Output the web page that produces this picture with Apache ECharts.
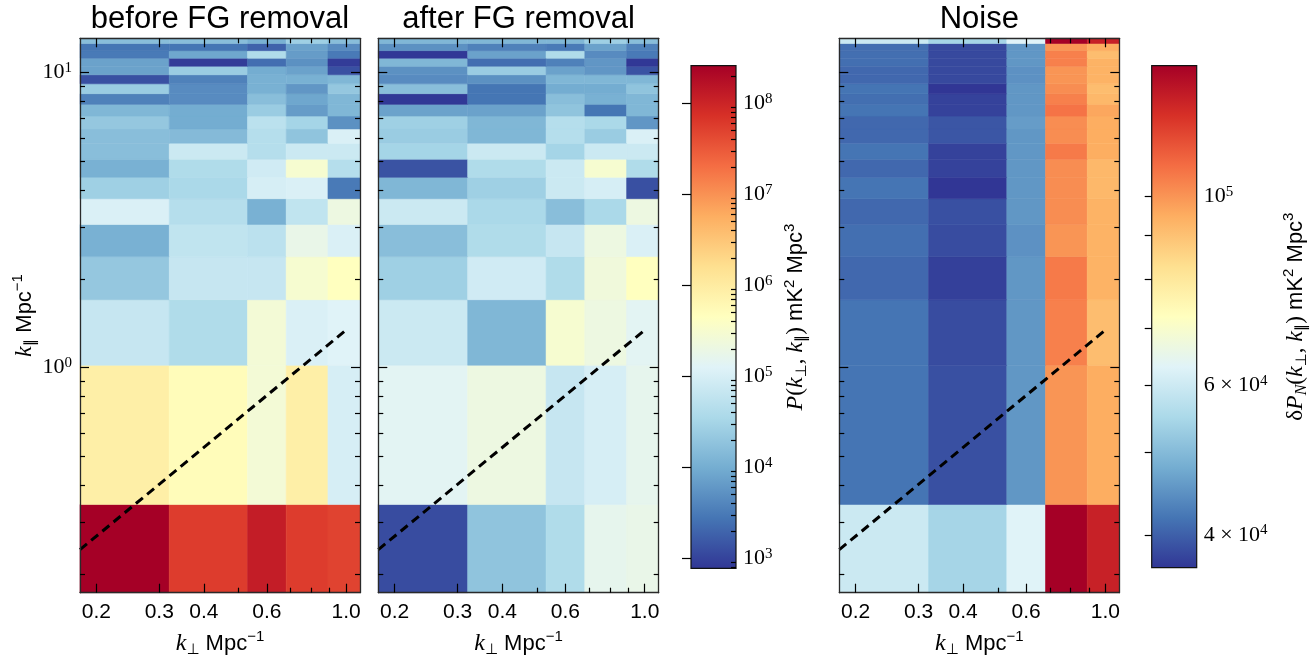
<!DOCTYPE html>
<html><head><meta charset="utf-8">
<script src="https://cdn.jsdelivr.net/npm/echarts@6/dist/echarts.min.js"></script>
<style>html,body{margin:0;padding:0;background:#fff}#c{width:1313px;height:658px}</style>
</head><body><div id="c"></div><script>
// ---------------- data ----------------
const kPerpEdges = [0.18, 0.32, 0.53, 0.68, 0.89, 1.094];
const kParEdges = [0.1727, 0.344, 1.02, 1.70, 2.38, 3.06, 3.74, 4.42, 5.09, 5.77, 6.45, 7.13, 7.81, 8.49, 9.17, 9.84, 10.52, 11.2, 11.88, 12.56, 13.08];
const kPerpRange = [0.18, 1.094];
const kParRange = [0.1727, 13.08];
const kPerpMajorTicks = [0.2, 0.3, 0.4, 0.6, 1.0];
const kPerpMinorTicks = [0.5, 0.7, 0.8, 0.9];
const kParMajorTicks = [1, 10];
const kParMinorTicks = [0.2, 0.3, 0.4, 0.5, 0.6, 0.7, 0.8, 0.9, 2, 3, 4, 5, 6, 7, 8, 9];
const powerRange = [776, 2.59e8];
const noiseRange = [3.66e4, 1.426e5];
const powerMajorTicks = [1e3, 1e4, 1e5, 1e6, 1e7, 1e8];
const noiseTicks = [4e4, 5e4, 6e4, 7e4, 8e4, 9e4, 1e5];
const noiseLabelTicks = [4e4, 6e4, 1e5];
const wedgeKPerp = [0.18, 1.0];
const wedgeKPar = [0.2416, 1.342];
const titles = ['before FG removal', 'after FG removal', 'Noise'];

// rows from lowest k_par bin upward, columns from lowest k_perp bin
const beforeFG = [
  [2.6e8, 5.6e7, 1.2e8, 5.6e7, 4.9e7],
  [8.5e5, 5.1e5, 2.7e5, 8.5e5, 9.8e4],
  [6.7e4, 4.0e4, 2.7e5, 1.1e5, 1.26e5],
  [2.1e4, 6.7e4, 6.7e4, 3.1e5, 4.5e5],
  [1.1e4, 5.9e4, 5.2e4, 1.8e5, 1.1e5],
  [1.1e5, 4.5e4, 1.1e4, 5.9e4, 2.1e5],
  [2.7e4, 3.5e4, 9.8e4, 1.1e5, 3.1e3],
  [1.1e4, 4.0e4, 8.6e4, 3.1e5, 4.5e4],
  [1.6e4, 7.6e4, 4.5e4, 7.6e4, 7.6e4],
  [1.6e4, 1.45e4, 4.5e4, 1.9e4, 1.1e5],
  [2.1e4, 9.9e3, 5.2e4, 3.1e4, 5.2e3],
  [1.3e4, 9.9e3, 2.4e4, 6.7e3, 1.3e4],
  [3.6e3, 4.6e3, 1.6e4, 8.7e3, 1.3e4],
  [2.4e4, 4.6e3, 1.1e4, 5.9e3, 2.1e4],
  [1.3e3, 3.6e3, 1.1e4, 1.1e4, 1.3e4],
  [7.7e3, 2.4e4, 9.9e3, 7.7e3, 1.3e3],
  [7.7e3, 880, 2.4e3, 5.2e3, 880],
  [3.1e3, 8.7e3, 4.0e4, 6.7e3, 3.1e3],
  [2.8e3, 2.8e3, 1.9e3, 7.7e3, 4.6e3],
  [1.6e4, 1.6e4, 1.1e4, 2.7e4, 1.6e4]
];
const afterFG = [
  [1.2e3, 1.9e4, 4.0e4, 1.6e5, 1.8e5],
  [1.4e5, 2.1e5, 6.7e4, 9.8e4, 1.6e5],
  [7.6e4, 1.3e4, 3.1e5, 2.1e5, 1.4e5],
  [2.7e4, 8.6e4, 4.0e4, 2.4e5, 4.5e5],
  [1.6e4, 4.0e4, 6.7e4, 2.1e5, 1.1e5],
  [7.6e4, 3.5e4, 1.6e4, 3.5e4, 2.1e5],
  [1.3e4, 2.7e4, 7.6e4, 9.8e4, 1.3e3],
  [1.4e3, 4.0e4, 7.6e4, 3.1e5, 4.0e4],
  [3.1e4, 7.6e4, 3.1e4, 7.6e4, 7.6e4],
  [2.4e4, 1.3e4, 4.5e4, 2.4e4, 1.1e5],
  [2.7e4, 1.3e4, 4.5e4, 3.5e4, 5.9e3],
  [7.7e3, 7.7e3, 1.9e4, 2.8e3, 1.3e4],
  [800, 2.8e3, 1.6e4, 1.1e4, 1.3e4],
  [1.6e4, 2.8e3, 9.9e3, 9.9e3, 1.9e4],
  [4.6e3, 5.2e3, 1.3e4, 1.3e4, 1.3e4],
  [5.2e3, 2.4e4, 7.7e3, 5.9e3, 1.4e3],
  [1.3e4, 2.4e3, 3.6e3, 5.9e3, 800],
  [800, 7.7e3, 4.0e4, 4.6e3, 3.1e3],
  [5.2e3, 3.6e3, 3.1e3, 7.7e3, 3.6e3],
  [1.3e4, 1.3e4, 1.3e4, 2.7e4, 1.6e4]
];
const noise = [
  [5.97e4, 5.43e4, 6.31e4, 1.43e5, 1.30e5],
  [4.19e4, 3.87e4, 4.55e4, 1.00e5, 9.49e4],
  [4.19e4, 3.84e4, 4.55e4, 1.044e5, 9.11e4],
  [4.08e4, 3.74e4, 4.55e4, 1.058e5, 9.36e4],
  [4.14e4, 3.84e4, 4.49e4, 1.00e5, 9.36e4],
  [4.08e4, 3.87e4, 4.55e4, 1.016e5, 9.36e4],
  [4.19e4, 3.66e4, 4.55e4, 1.016e5, 9.23e4],
  [4.08e4, 3.76e4, 4.55e4, 1.016e5, 9.23e4],
  [4.19e4, 3.76e4, 4.55e4, 1.058e5, 9.49e4],
  [4.08e4, 3.92e4, 4.55e4, 1.016e5, 9.49e4],
  [4.08e4, 3.92e4, 4.61e4, 1.016e5, 9.49e4],
  [4.19e4, 3.76e4, 4.55e4, 1.072e5, 9.62e4],
  [4.14e4, 3.76e4, 4.55e4, 1.044e5, 9.23e4],
  [4.19e4, 3.66e4, 4.55e4, 1.016e5, 9.11e4],
  [4.08e4, 3.81e4, 4.49e4, 1.00e5, 9.36e4],
  [4.08e4, 3.81e4, 4.49e4, 1.00e5, 9.36e4],
  [4.14e4, 3.81e4, 4.55e4, 1.044e5, 9.36e4],
  [4.14e4, 3.81e4, 4.55e4, 1.044e5, 9.11e4],
  [4.14e4, 3.81e4, 4.55e4, 1.00e5, 9.49e4],
  [5.97e4, 5.43e4, 6.31e4, 1.43e5, 1.30e5]
];

// ---------------- colormap ----------------
const RdYlBu_r = ['#313695','#4575b4','#74add1','#abd9e9','#e0f3f8','#ffffbf','#fee090','#fdae61','#f46d43','#d73027','#a50026'];
const stopsRGB = RdYlBu_r.map(h => [parseInt(h.slice(1,3),16), parseInt(h.slice(3,5),16), parseInt(h.slice(5,7),16)]);
function cmap(t) {
  t = Math.max(0, Math.min(1, t));
  const s = t * (stopsRGB.length - 1);
  const i = Math.min(Math.floor(s), stopsRGB.length - 2);
  const f = s - i, a = stopsRGB[i], b = stopsRGB[i + 1];
  return 'rgb(' + [0,1,2].map(k => Math.round(a[k] + (b[k] - a[k]) * f)).join(',') + ')';
}
function colorFor(v, range) {
  return cmap((Math.log10(v) - Math.log10(range[0])) / (Math.log10(range[1]) - Math.log10(range[0])));
}

// ---------------- layout ----------------
const plotTop = 38.3, plotHeight = 554.4;
const panelLeft = [80, 378.3, 839.3];
const panelWidth = [280, 280.4, 280];
const panelData = [beforeFG, afterFG, noise];
const panelRange = [powerRange, powerRange, noiseRange];

const SERIF = 'Liberation Serif', SANS = 'Liberation Sans', SYM = 'DejaVu Sans';
const nameRich = {
  i: {fontFamily: SERIF, fontStyle: 'italic', fontSize: 24, color: '#000', lineHeight: 28},
  r: {fontFamily: SERIF, fontSize: 23, color: '#000', lineHeight: 28},
  sub: {fontFamily: SYM, fontSize: 15, color: '#000', verticalAlign: 'bottom', lineHeight: 18},
  subi: {fontFamily: SERIF, fontStyle: 'italic', fontSize: 16, color: '#000', verticalAlign: 'bottom', lineHeight: 18},
  t: {fontFamily: SANS, fontSize: 22, color: '#000', lineHeight: 28},
  sup: {fontFamily: SANS, fontSize: 15, color: '#000', verticalAlign: 'top', lineHeight: 18}
};
const powRich = {
  b: {fontFamily: SERIF, fontSize: 22, color: '#000', lineHeight: 24},
  s: {fontFamily: SERIF, fontSize: 15, color: '#000', verticalAlign: 'top', lineHeight: 16}
};
function powLabel(v) {
  const e = Math.floor(Math.log10(v) + 1e-9);
  const m = Math.round(v / Math.pow(10, e));
  return m === 1 ? '{b|10}{s|' + e + '}' : '{b|' + m + ' × 10}{s|' + e + '}';
}
function minorsOf(lo, hi) {
  const out = [];
  for (let e = Math.floor(Math.log10(lo)); e <= Math.ceil(Math.log10(hi)); e++)
    for (let m = 2; m <= 9; m++) { const v = m * Math.pow(10, e); if (v >= lo && v <= hi) out.push(v); }
  return out;
}

const LINE = {color: '#2a2a2a', width: 1.3};
const TICK = {color: '#000', width: 1.2};
const grids = [], xAxes = [], yAxes = [], series = [];

for (let p = 0; p < 3; p++) {
  grids.push({left: panelLeft[p], top: plotTop, width: panelWidth[p], height: plotHeight, outerBoundsMode: 'none', containLabel: false});
  const xb = {type: 'log', logBase: 10, gridIndex: p, min: kPerpRange[0], max: kPerpRange[1], z: 10,
    splitLine: {show: false}, minorTick: {show: false}, minorSplitLine: {show: false}};
  xAxes.push(Object.assign({}, xb, {position: 'bottom',
    axisLine: {show: true, onZero: false, lineStyle: LINE},
    axisTick: {show: true, inside: true, length: 9, customValues: kPerpMajorTicks, lineStyle: TICK},
    axisLabel: {show: true, customValues: kPerpMajorTicks, margin: 9, formatter: v => v.toFixed(1),
      fontFamily: SANS, fontSize: 21, color: '#000'},
    name: '{i|k}{sub|⊥}{t| Mpc}{sup|−1}', nameLocation: 'middle', nameGap: 37,
    nameTextStyle: {rich: nameRich}}));
  xAxes.push(Object.assign({}, xb, {position: 'bottom', axisLine: {show: false},
    axisTick: {show: true, inside: true, length: 5, customValues: kPerpMinorTicks, lineStyle: TICK},
    axisLabel: {show: false}}));
  xAxes.push(Object.assign({}, xb, {position: 'top', axisLine: {show: true, onZero: false, lineStyle: LINE},
    axisTick: {show: true, inside: true, length: 9, customValues: kPerpMajorTicks, lineStyle: TICK},
    axisLabel: {show: false}}));
  xAxes.push(Object.assign({}, xb, {position: 'top', axisLine: {show: false},
    axisTick: {show: true, inside: true, length: 5, customValues: kPerpMinorTicks, lineStyle: TICK},
    axisLabel: {show: false}}));

  const yb = {type: 'log', logBase: 10, gridIndex: p, min: kParRange[0], max: kParRange[1], z: 10,
    splitLine: {show: false}, minorTick: {show: false}, minorSplitLine: {show: false}};
  const leftMain = Object.assign({}, yb, {position: 'left',
    axisLine: {show: true, onZero: false, lineStyle: LINE},
    axisTick: {show: true, inside: true, length: 9, customValues: kParMajorTicks, lineStyle: TICK},
    axisLabel: {show: p === 0, customValues: kParMajorTicks, margin: 8, formatter: powLabel, rich: powRich}});
  if (p === 0) {
    leftMain.name = '{i|k}{sub|∥}{t| Mpc}{sup|−1}';
    leftMain.nameLocation = 'middle';
    leftMain.nameGap = 40;
    leftMain.nameTextStyle = {rich: nameRich};
  }
  yAxes.push(leftMain);
  yAxes.push(Object.assign({}, yb, {position: 'left', axisLine: {show: false},
    axisTick: {show: true, inside: true, length: 5, customValues: kParMinorTicks, lineStyle: TICK},
    axisLabel: {show: false}}));
  yAxes.push(Object.assign({}, yb, {position: 'right', axisLine: {show: true, onZero: false, lineStyle: LINE},
    axisTick: {show: true, inside: true, length: 9, customValues: kParMajorTicks, lineStyle: TICK},
    axisLabel: {show: false}}));
  yAxes.push(Object.assign({}, yb, {position: 'right', axisLine: {show: false},
    axisTick: {show: true, inside: true, length: 5, customValues: kParMinorTicks, lineStyle: TICK},
    axisLabel: {show: false}}));

  const cells = [];
  const vals = panelData[p];
  for (let r = 0; r < vals.length; r++)
    for (let c = 0; c < vals[r].length; c++)
      cells.push([kPerpEdges[c], kPerpEdges[c + 1], kParEdges[r], kParEdges[r + 1], vals[r][c]]);
  const range = panelRange[p];
  series.push({
    type: 'custom', xAxisIndex: 4 * p, yAxisIndex: 4 * p, silent: true, z: 1,
    encode: {x: [0, 1], y: [2, 3]}, data: cells,
    renderItem: function (params, api) {
      const a = api.coord([api.value(0), api.value(2)]);
      const b = api.coord([api.value(1), api.value(3)]);
      const cs = params.coordSys;
      const shape = echarts.graphic.clipRectByRect(
        {x: Math.min(a[0], b[0]), y: Math.min(a[1], b[1]), width: Math.abs(b[0] - a[0]), height: Math.abs(b[1] - a[1])},
        {x: cs.x, y: cs.y, width: cs.width, height: cs.height});
      if (!shape) return;
      const col = colorFor(api.value(4), range);
      return {type: 'rect', shape: shape, style: {fill: col, stroke: col, lineWidth: 0.6}};
    }
  });
  series.push({
    type: 'line', xAxisIndex: 4 * p, yAxisIndex: 4 * p, z: 5, silent: true, symbol: 'none',
    data: wedgeKPerp.map((x, i) => [x, wedgeKPar[i]]),
    lineStyle: {color: '#000', width: 3, type: [9, 5.5]}
  });
}

// ---------------- colorbars ----------------
const cbars = [
  {left: 691, top: 65.7, width: 45, height: 502.6, range: powerRange},
  {left: 1151.7, top: 65.7, width: 45, height: 502, range: noiseRange}
];
cbars.forEach((cb, k) => {
  const gi = 3 + k;
  grids.push({left: cb.left, top: cb.top, width: cb.width, height: cb.height, outerBoundsMode: 'none', containLabel: false});
  xAxes.push({type: 'value', gridIndex: gi, min: 0, max: 1, show: false});
  const yIdx = yAxes.length;
  const yb = {type: 'log', logBase: 10, gridIndex: gi, min: cb.range[0], max: cb.range[1], position: 'right', z: 10,
    splitLine: {show: false}, minorTick: {show: false}, axisLine: {show: false}};
  if (k === 0) {
    yAxes.push(Object.assign({}, yb, {
      axisTick: {show: true, inside: true, length: 9, customValues: powerMajorTicks, lineStyle: TICK},
      axisLabel: {show: true, customValues: powerMajorTicks, margin: 7, formatter: powLabel, rich: powRich},
      name: '{i|P}{r|(}{i|k}{sub|⊥}{r|, }{i|k}{sub|∥}{r|)}{t| mK}{sup|2}{t| Mpc}{sup|3}',
      nameLocation: 'middle', nameGap: 46, nameTextStyle: {rich: nameRich}}));
    yAxes.push(Object.assign({}, yb, {
      axisTick: {show: true, inside: true, length: 5, customValues: minorsOf(cb.range[0], cb.range[1]), lineStyle: TICK},
      axisLabel: {show: false}}));
  } else {
    yAxes.push(Object.assign({}, yb, {
      axisTick: {show: true, inside: true, length: 7, customValues: noiseTicks, lineStyle: TICK},
      axisLabel: {show: true, customValues: noiseLabelTicks, margin: 7, formatter: powLabel, rich: powRich},
      name: '{r|δ}{i|P}{subi|N}{r|(}{i|k}{sub|⊥}{r|, }{i|k}{sub|∥}{r|)}{t| mK}{sup|2}{t| Mpc}{sup|3}',
      nameLocation: 'middle', nameGap: 85, nameTextStyle: {rich: nameRich}}));
  }
  const stopsList = RdYlBu_r.map((c, i) => ({offset: i / (RdYlBu_r.length - 1), color: c}));
  series.push({
    type: 'custom', xAxisIndex: 3 * 4 + k, yAxisIndex: yIdx, silent: true, z: 1,
    encode: {x: [0, 1], y: [2, 3]}, data: [[0, 1, cb.range[0], cb.range[1]]],
    renderItem: function (params, api) {
      const a = api.coord([api.value(0), api.value(2)]);
      const b = api.coord([api.value(1), api.value(3)]);
      return {type: 'rect',
        shape: {x: Math.min(a[0], b[0]), y: Math.min(a[1], b[1]), width: Math.abs(b[0] - a[0]), height: Math.abs(b[1] - a[1])},
        style: {fill: new echarts.graphic.LinearGradient(0, 1, 0, 0, stopsList), stroke: '#111', lineWidth: 1.2}};
    }
  });
});

const titleCenters = panelLeft.map((l, i) => l + panelWidth[i] / 2);
const graphic = titles.map((t, i) => ({
  type: 'text', x: titleCenters[i], y: 19, z: 20,
  style: {text: t, fontFamily: SANS, fontSize: 31, fill: '#000', align: 'center', verticalAlign: 'middle',
    textAlign: 'center', textVerticalAlign: 'middle'}
}));

const chart = echarts.init(document.getElementById('c'), null, {renderer: 'canvas', width: 1313, height: 658});
chart.setOption({
  animation: false,
  backgroundColor: '#fff',
  grid: grids, xAxis: xAxes, yAxis: yAxes, series: series, graphic: graphic
});
</script></body></html>
